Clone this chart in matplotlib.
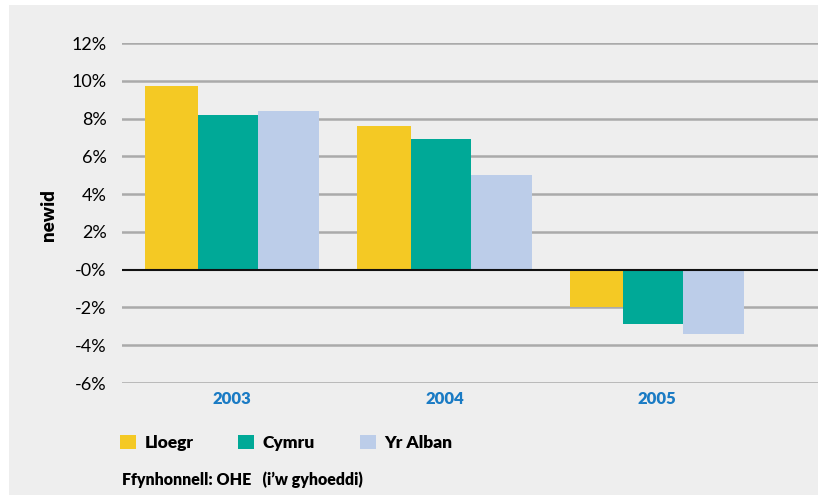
import matplotlib
matplotlib.use("Agg")
from matplotlib import pyplot as plt
from matplotlib.patches import Rectangle
import numpy as np

plt.rcParams['font.family'] = ['Lato', 'DejaVu Sans']

# data
years = ["2003", "2004", "2005"]
series_names = ["Lloegr", "Cymru", "Yr Alban"]
lloegr = [9.7, 7.6, -2.0]
cymru = [8.2, 6.9, -2.9]
yr_alban = [8.4, 5.0, -3.4]
ytick_vals = [-6, -4, -2, 0, 2, 4, 6, 8, 10, 12]
ytick_labels = ["-6%", "-4%", "-2%", "-0%", "2%", "4%", "6%", "8%", "10%", "12%"]
source_text = "Ffynhonnell: OHE   (i\u2019w gyhoeddi)"

colors = ["#f4c924", "#00a997", "#bccde9"]
bg = "#eeeeee"
heavy = 800

fig = plt.figure(figsize=(8.18, 4.95), dpi=100)
fig.patch.set_facecolor("white")
# grey panel behind everything
fig.patches.append(Rectangle((9/818, 0), 1 - 9/818, 1 - 5/495,
                             transform=fig.transFigure, facecolor=bg,
                             edgecolor="none", zorder=-10))

ax = fig.add_axes([122/818, (495-383)/495, (818-122)/818, 340/495])
ax.set_facecolor(bg)

x = np.arange(len(years))
lefts = [-0.41, -0.16, 0.123]
widths = [0.25, 0.283, 0.287]
bars = []
for vals, left, w, c, name in zip([lloegr, cymru, yr_alban], lefts, widths, colors, series_names):
    b = ax.bar(x + left, vals, width=w, align='edge', color=c, label=name, zorder=3)
    bars.append(b)

ax.set_ylim(-6, 12)
ax.set_xlim(-0.518, 2.758)

for v in ytick_vals:
    if v == 0:
        ax.axhline(v, color="#111111", lw=1.5, zorder=4)
    else:
        ax.axhline(v, color="#aaaaaa", lw=1.8, zorder=1)

ax.set_yticks(ytick_vals)
ax.set_yticklabels(ytick_labels, fontsize=13)
ax.set_xticks(x)
ax.set_xticklabels(years, fontsize=12, fontweight=heavy, color="#1a7bc4")
ax.tick_params(axis='y', length=0, pad=11)
ax.tick_params(axis='x', length=0, pad=6)
for s in ax.spines.values():
    s.set_visible(False)

ax.set_ylabel("newid", fontsize=13.5, fontweight=heavy)
ax.yaxis.set_label_coords(-0.094, 0.494)

fig.legend(handles=bars, labels=series_names, loc="upper left",
           bbox_to_anchor=(120/818, 1 - 435/495), ncol=3, frameon=False,
           borderpad=0, borderaxespad=0, handlelength=0.9, handleheight=0.9,
           handletextpad=0.5, columnspacing=2.6,
           prop={"weight": heavy, "size": 12.5})

fig.text(122/818, 1 - 480/495, source_text, fontsize=11.5, fontweight=heavy,
         va="center", ha="left")

plt.savefig("out.png", dpi=100, facecolor=fig.get_facecolor())
